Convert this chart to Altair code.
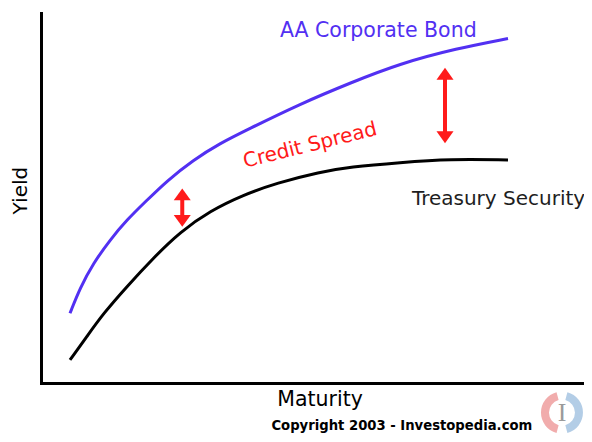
import math
import altair as alt
import pandas as pd

# Maturity (years) and yield (%)
blue_years = [1.599, 2.151, 2.884, 3.805, 4.726, 5.829, 6.932, 8.399, 9.871, 11.343,
              14.283, 17.040, 19.798, 22.925, 25.754]
blue_yield = [1.884, 2.568, 3.235, 3.865, 4.405, 4.932, 5.459, 6.027, 6.478, 6.838,
              7.541, 8.108, 8.635, 9.041, 9.311]
black_years = [1.599, 2.520, 3.436, 4.726, 6.193, 7.665, 9.320, 11.156, 12.998, 15.386,
               17.040, 19.798, 22.555, 25.754]
black_yield = [0.622, 1.251, 1.878, 2.603, 3.378, 4.081, 4.649, 5.081, 5.405, 5.703,
               5.838, 5.959, 6.054, 6.027]

# spread arrows: maturity, low yield, high yield
arrow_x = [7.79, 22.28]
arrow_lo = [4.22, 6.48]
arrow_hi = [5.26, 8.52]

BLUE = "#5230f2"
RED = "#ff1a1a"
FONT = "DejaVu Sans"

xs = alt.Scale(domain=[0, 29.945], nice=False, zero=False)
ys = alt.Scale(domain=[0, 10], nice=False, zero=False)
ax = alt.Axis(labels=False, ticks=False, grid=False, domainColor="black",
              domainWidth=3, title=None, domainCap="square")


def X(f):
    return alt.X(f, scale=xs, axis=ax)


def Y(f):
    return alt.Y(f, scale=ys, axis=ax)


blue_df = pd.DataFrame({"m": blue_years, "y": blue_yield})
black_df = pd.DataFrame({"m": black_years, "y": black_yield})
arr_df = pd.DataFrame({"m": arrow_x, "lo": arrow_lo, "hi": arrow_hi})
arr_df["rlo"] = arr_df["lo"] + 0.2
arr_df["rhi"] = arr_df["hi"] - 0.2

blue = alt.Chart(blue_df).mark_line(color=BLUE, strokeWidth=3, interpolate="basis").encode(
    x=X("m:Q"), y=Y("y:Q"), order="m:Q")
black = alt.Chart(black_df).mark_line(color="black", strokeWidth=3, interpolate="basis").encode(
    x=X("m:Q"), y=Y("y:Q"), order="m:Q")
shaft = alt.Chart(arr_df).mark_rule(color=RED, strokeWidth=4).encode(
    x=X("m:Q"), y=Y("rlo:Q"), y2="rhi:Q")
head_up = alt.Chart(arr_df).mark_point(
    shape="M0,0L1,1.4L-1,1.4Z", filled=True, color=RED, size=290, opacity=1, strokeWidth=0
).encode(x=X("m:Q"), y=Y("hi:Q"))
head_dn = alt.Chart(arr_df).mark_point(
    shape="M0,0L1,-1.4L-1,-1.4Z", filled=True, color=RED, size=290, opacity=1, strokeWidth=0
).encode(x=X("m:Q"), y=Y("lo:Q"))

labels = pd.DataFrame({
    "m": [18.60, 14.84, 25.23, -1.10, 15.39, 19.90],
    "y": [9.34, 6.42, 4.81, 5.20, -0.62, -1.27],
    "t": ["AA Corporate Bond", "Credit Spread", "Treasury Security", "Yield", "Maturity",
          "Copyright 2003 - Investopedia.com"],
})


def txt(i, **kw):
    return alt.Chart(labels.iloc[[i]]).mark_text(font=FONT, **kw).encode(
        x=X("m:Q"), y=Y("y:Q"), text="t:N")


t_aa = txt(0, color=BLUE, fontSize=20.5, baseline="alphabetic", align="center")
t_cs = txt(1, color=RED, fontSize=20, baseline="middle", align="center", angle=346)
t_ts = txt(2, color="#1e1e1e", fontSize=20, baseline="alphabetic", align="center")
t_y = txt(3, color="black", fontSize=20, baseline="middle", align="center", angle=270)
t_m = txt(4, color="black", fontSize=20.5, baseline="alphabetic", align="center")
t_c = txt(5, color="black", fontSize=13.2, fontWeight="bold", baseline="alphabetic", align="center")

# logo
logo_df = pd.DataFrame({"m": [28.73], "y": [-0.80], "t": ["I"]})
logo_l = alt.Chart(logo_df).mark_arc(theta=math.radians(195), theta2=math.radians(345),
                                     radius=21, radius2=13, color="#ef9e9e", opacity=0.85).encode(
    x=X("m:Q"), y=Y("y:Q"))
logo_r = alt.Chart(logo_df).mark_arc(theta=math.radians(15), theta2=math.radians(165),
                                     radius=21, radius2=13, color="#a6c4e2", opacity=0.85).encode(
    x=X("m:Q"), y=Y("y:Q"))
logo_t = alt.Chart(logo_df).mark_text(font="Liberation Serif", fontSize=26, color="#9a9a9a",
                                      baseline="middle", align="center").encode(
    x=X("m:Q"), y=Y("y:Q"), text="t:N")

chart = alt.layer(
    blue, black, shaft, head_up, head_dn,
    t_aa, t_cs, t_ts, t_y, t_m, t_c, logo_l, logo_r, logo_t,
).properties(
    width=543, height=370,
    autosize=alt.AutoSizeParams(type="none"),
    padding={"left": 33, "top": 5, "right": 0, "bottom": 51},
).configure_view(stroke=None)

chart.save("out.html", embed_options={"renderer": "svg", "actions": False})
